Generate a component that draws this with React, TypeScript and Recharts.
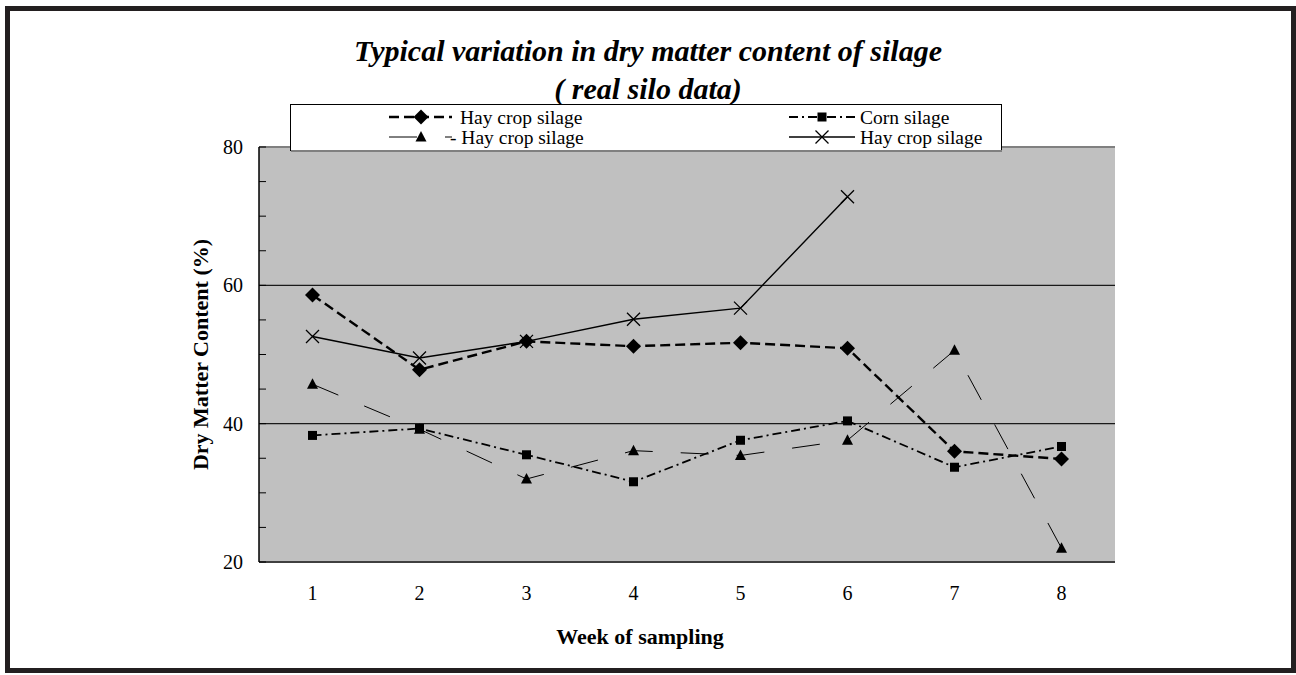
import {
  CartesianGrid,
  Legend,
  Line,
  LineChart,
  ReferenceLine,
  XAxis,
  YAxis,
} from "recharts";

const weeks = ["1", "2", "3", "4", "5", "6", "7", "8"];
const hayDiamond = [58.6, 47.8, 51.9, 51.2, 51.7, 50.9, 36.0, 34.9];
const cornSquare = [38.3, 39.3, 35.5, 31.6, 37.6, 40.4, 33.7, 36.7];
const hayTriangle = [45.7, 39.2, 32.0, 36.1, 35.4, 37.6, 50.6, 22.0];
const hayCross = [52.6, 49.5, 51.9, 55.1, 56.7, 72.8, null, null];

const yTicks = [20, 25, 30, 35, 40, 45, 50, 55, 60, 65, 70, 75, 80];
const yLabelTicks = [20, 40, 60, 80];

const data = weeks.map((week, i) => ({
  week,
  diamond: hayDiamond[i],
  square: cornSquare[i],
  triangle: hayTriangle[i],
  cross: hayCross[i],
}));

const FONT = '"Liberation Serif", "Times New Roman", serif';

type Shape = "diamond" | "square" | "triangle" | "cross";

function Marker({ shape, cx, cy }: { shape: Shape; cx: number; cy: number }) {
  if (shape === "diamond") {
    return (
      <path
        d={`M${cx},${cy - 7.5}L${cx + 7.5},${cy}L${cx},${cy + 7.5}L${cx - 7.5},${cy}Z`}
        fill="#000"
      />
    );
  }
  if (shape === "square") {
    return <rect x={cx - 4.5} y={cy - 4.5} width={9} height={9} fill="#000" />;
  }
  if (shape === "triangle") {
    return (
      <path
        d={`M${cx},${cy - 6}L${cx + 5.5},${cy + 4.5}L${cx - 5.5},${cy + 4.5}Z`}
        fill="#000"
      />
    );
  }
  return (
    <path
      d={`M${cx - 6.5},${cy - 6.5}L${cx + 6.5},${cy + 6.5}M${cx - 6.5},${cy + 6.5}L${cx + 6.5},${cy - 6.5}`}
      stroke="#000"
      strokeWidth={1.3}
      fill="none"
    />
  );
}

const series = [
  { key: "diamond", name: "Hay crop silage", shape: "diamond" as Shape, dash: "10 5", width: 2.4 },
  { key: "square", name: "Corn silage", shape: "square" as Shape, dash: "9 4 2 4", width: 1.8 },
  { key: "triangle", name: "- Hay crop silage", shape: "triangle" as Shape, dash: "28 28", width: 1 },
  { key: "cross", name: "Hay crop silage", shape: "cross" as Shape, dash: undefined, width: 1.4 },
];

const dotFor = (shape: Shape) => (props: any) => {
  const { cx, cy, index } = props;
  if (cx == null || cy == null || props.value == null) return <g key={`${shape}-${index}`} />;
  return (
    <g key={`${shape}-${index}`}>
      <Marker shape={shape} cx={cx} cy={cy} />
    </g>
  );
};

function YTick(props: any) {
  const { x, y, payload } = props;
  const major = yLabelTicks.includes(payload.value);
  return (
    <g>
      <line x1={x} x2={x + 7} y1={y} y2={y} stroke="#000" strokeWidth={1} />
      {major && (
        <text
          x={x - 16}
          y={y}
          textAnchor="end"
          dominantBaseline="central"
          fontFamily={FONT}
          fontSize={20}
          fill="#000"
        >
          {payload.value}
        </text>
      )}
    </g>
  );
}

// legend slots: [sample start, sample end, marker x, text x, row y]
const legendSlots = [
  [99, 162, 131, 170, 13],
  [499, 565, 532, 570, 13],
  [99, 162, 131, 160, 33],
  [499, 565, 532, 570, 33],
];

function LegendBox() {
  return (
    <svg width={712} height={48} style={{ display: "block" }}>
      <rect x={0.5} y={0.5} width={711} height={46} fill="#fff" stroke="#000" />
      <line x1={1} x2={712} y1={47} y2={47} stroke="#808080" strokeWidth={2} />
      {series.map((s, i) => {
        const [x1, x2, mx, tx, ry] = legendSlots[i];
        return (
          <g key={s.key + i}>
            <line
              x1={x1}
              x2={x2}
              y1={ry}
              y2={ry}
              stroke="#000"
              strokeWidth={s.width}
              strokeDasharray={s.dash}
            />
            <Marker shape={s.shape} cx={mx} cy={ry} />
            <text
              x={tx}
              y={ry}
              dominantBaseline="central"
              fontFamily={FONT}
              fontSize={19.5}
              fill="#000"
            >
              {s.name}
            </text>
          </g>
        );
      })}
    </svg>
  );
}

export default function App() {
  return (
    <div
      style={{
        position: "absolute",
        left: 0,
        top: 0,
        width: 1296,
        height: 675,
        background: "#fff",
        overflow: "hidden",
      }}
    >
      <div
        style={{
          position: "absolute",
          left: 5,
          top: 6,
          width: 1291,
          height: 667,
          boxSizing: "border-box",
          border: "5px solid #231f20",
        }}
      />
      <div
        style={{
          position: "absolute",
          left: 0,
          width: 1296,
          top: 32,
          textAlign: "center",
          fontFamily: FONT,
          fontWeight: "bold",
          fontStyle: "italic",
          fontSize: 30,
          lineHeight: "38px",
          color: "#000",
        }}
      >
        <div>Typical variation in dry matter content of silage</div>
        <div>( real silo data)</div>
      </div>
      <div style={{ position: "absolute", left: 0, top: 0 }}>
        <LineChart
          width={1296}
          height={675}
          data={data}
          margin={{ top: 147, right: 181, bottom: 83, left: 199 }}
        >
          <CartesianGrid
            fill="#c0c0c0"
            fillOpacity={1}
            horizontal={false}
            vertical={false}
          />
          <ReferenceLine y={40} stroke="#1a1a1a" strokeWidth={1.2} />
          <ReferenceLine y={60} stroke="#1a1a1a" strokeWidth={1.2} />
          <ReferenceLine y={80} stroke="#808080" strokeWidth={2} />
          <XAxis
            dataKey="week"
            height={30}
            padding={{ left: 53.5, right: 53.5 }}
            tickLine={false}
            tickSize={0}
            tickMargin={24}
            axisLine={{ stroke: "#404040", strokeWidth: 2 }}
            tick={{ fontFamily: FONT, fontSize: 20, fill: "#000" }}
            interval={0}
            label={{
              value: "Week of sampling",
              position: "center",
              dx: -47,
              dy: 59,
              style: {
                fontFamily: FONT,
                fontWeight: "bold",
                fontSize: 22,
                fill: "#000",
              },
            }}
          />
          <YAxis
            width={60}
            domain={[20, 80]}
            ticks={yTicks}
            interval={0}
            tickLine={false}
            tickSize={0}
            tickMargin={0}
            axisLine={{ stroke: "#000", strokeWidth: 1.5 }}
            tick={<YTick />}
            label={{
              value: "Dry Matter Content (%)",
              angle: -90,
              position: "center",
              dx: -29,
              style: {
                fontFamily: FONT,
                fontWeight: "bold",
                fontSize: 22,
                fill: "#000",
                textAnchor: "middle",
              },
            }}
          />
          <YAxis
            yAxisId="frame"
            orientation="right"
            width={0}
            domain={[20, 80]}
            tick={false}
            tickLine={false}
            axisLine={{ stroke: "#808080", strokeWidth: 2 }}
          />
          <Legend
            verticalAlign="middle"
            align="center"
            content={() => <LegendBox />}
            wrapperStyle={{ left: 290, top: 104, width: 712, height: 48 }}
          />
          {series.map((s) => (
            <Line
              key={s.key}
              dataKey={s.key}
              name={s.name}
              type="linear"
              stroke="#000"
              strokeWidth={s.width}
              strokeDasharray={s.dash}
              dot={dotFor(s.shape)}
              activeDot={false}
              connectNulls={false}
              isAnimationActive={false}
            />
          ))}
        </LineChart>
      </div>
    </div>
  );
}
